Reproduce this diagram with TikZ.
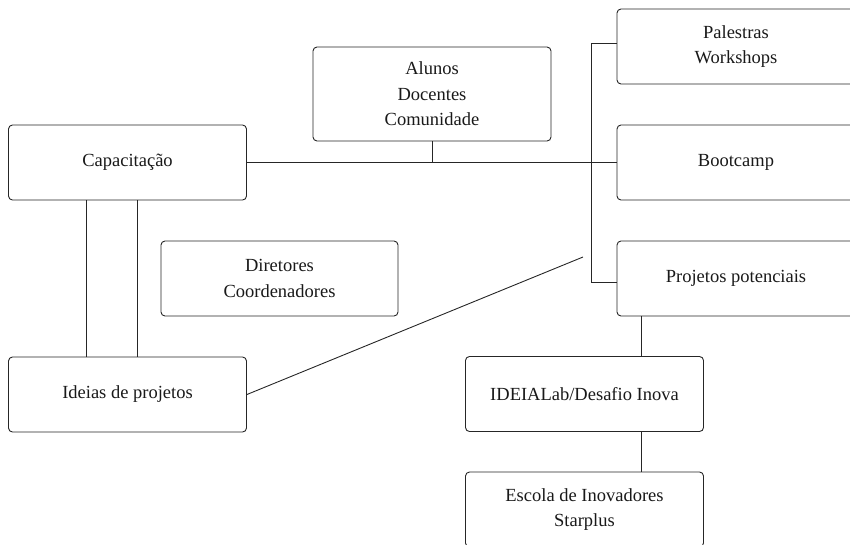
\documentclass[tikz,border=0pt]{standalone}
\usepackage{fontspec}
\setmainfont{Liberation Serif}
\begin{document}
\begin{tikzpicture}[x=1pt,y=-1pt,
  box/.style={draw=black!85, line width=0.9pt, rounded corners=4pt, minimum width=238pt, minimum height=75pt, align=center, inner sep=0pt, font=\fontsize{18.5}{25.5}\selectfont, text=black!90},
  link/.style={draw=black!85, line width=0.9pt}]
\useasboundingbox (0,0) rectangle (850,544);
\node[box] (cap) at (127.5,162.5) {Capacitação};
\node[box] (ide) at (127.5,394.5) {Ideias de projetos};
\node[box, minimum width=237pt] (dir) at (279.5,278.5) {Diretores\\Coordenadores};
\node[box, minimum height=94pt] (alu) at (432,94) {Alunos\\Docentes\\Comunidade};
\node[box] (pal) at (736,46.5) {Palestras\\Workshops};
\node[box] (boot) at (736,162.5) {Bootcamp};
\node[box] (proj) at (736,278.5) {Projetos potenciais};
\node[box] (idea) at (584.5,394) {IDEIALab/Desafio Inova};
\node[box] (esc) at (584.5,509.5) {Escola de Inovadores\\Starplus};
% connectors
\draw[link] (cap.east) -- (boot.west);
\draw[link] (alu.south) -- (alu.south |- cap.east);
\coordinate (bt) at (591,43.5);
\coordinate (bb) at (591,282);
\draw[link] (bt -| pal.west) -- (bt) -- (bb) -- (bb -| proj.west);
\draw[link] (cap.south west) ++(78,0) coordinate (c1) -- (c1 |- ide.north);
\draw[link] (cap.south west) ++(129,0) coordinate (c2) -- (c2 |- ide.north);
\coordinate (dend) at (583,257);
\draw[link] (ide.east) -- (dend);
\coordinate (vx) at (641,0);
\draw[link] (vx |- proj.south) -- (vx |- idea.north);
\draw[link] (vx |- idea.south) -- (vx |- esc.north);
\end{tikzpicture}
\end{document}
